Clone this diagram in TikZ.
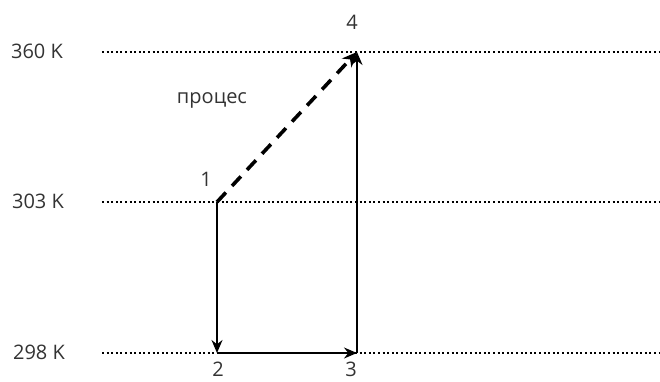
\documentclass[tikz,border=0pt]{standalone}
\usepackage{fontspec}
\setmainfont{Open Sans}
\usetikzlibrary{arrows.meta}
\begin{document}
\begin{tikzpicture}[x=1pt,y=-1pt,
  level/.style={line width=2pt, dash pattern=on 2pt off 2.6pt, black},
  lab/.style={font=\fontsize{20}{20}\selectfont, text=black!80, inner sep=0pt},
  arr/.style={line width=1.2pt, -{Stealth[length=13pt,width=11pt]}},
  darr/.style={line width=3.6pt, dash pattern=on 13pt off 9pt, -{Stealth[length=15pt,width=13pt]}}]
\useasboundingbox (0,0) rectangle (660,382);
\coordinate (p1) at (217,202);
\coordinate (p2) at (217,353);
\coordinate (p3) at (357,353);
\coordinate (p4) at (357,52);
\coordinate (l1s) at (102,52); \coordinate (l1e) at (660,52);
\coordinate (l2s) at (102,202); \coordinate (l2e) at (660,202);
\coordinate (l3s) at (102,353); \coordinate (l3e) at (660,353);
\draw[level] (l1s) -- (l1e);
\draw[level] (l2s) -- (l2e);
\draw[level] (l3s) -- (l3e);
\node[lab] (t1) at (37,51) {360 K};
\node[lab] (t2) at (38,201) {303 K};
\node[lab] (t3) at (39,352) {298 K};
\node[lab] (n1) at (206,179) {1};
\node[lab] (n2) at (218,369) {2};
\node[lab] (n3) at (351,369) {3};
\node[lab] (n4) at (352,22) {4};
\node[lab] (pr) at (212,100) {процес};
\draw[arr] (p1) -- (p2);
\draw[arr] (p2) -- (p3);
\draw[arr] (p3) -- (p4);
\draw[darr] (p1) -- (p4);
\end{tikzpicture}
\end{document}
